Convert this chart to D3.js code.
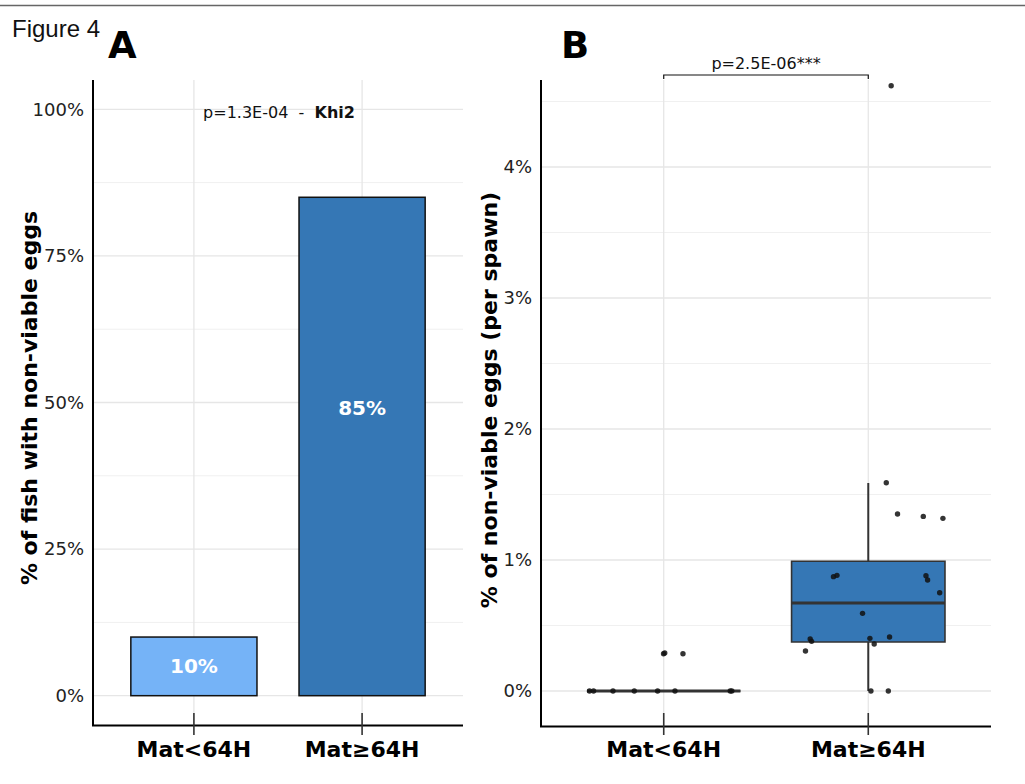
<!DOCTYPE html>
<html>
<head>
<meta charset="utf-8">
<script src="https://cdn.jsdelivr.net/npm/d3@7/dist/d3.min.js"></script>
<style>
html,body{margin:0;padding:0;background:#fff;}
svg{display:block;}
text{font-family:"DejaVu Sans",Verdana,sans-serif;}
</style>
</head>
<body>
<script>
// ---------- data ----------
const categories = ["Mat<64H", "Mat\u226564H"];
// Panel A: % of fish with non-viable eggs
const pctFish = [10, 85];
const pctLabelAt = [5, 49];
const barColors = ["#75b3f7", "#3577b5"];
const ticksA = [0, 25, 50, 75, 100];
const minorA = [12.5, 37.5, 62.5, 87.5];
// Panel B: box stats [lowerWhisker, q1, median, q3, upperWhisker] (%)
const boxStats = [
  [0, 0, 0, 0, 0],
  [0, 0.374, 0.672, 0.99, 1.588]
];
// jittered points: group index, jitter offset (category units), value (%)
const ptGroup = [0,0,0,0,0,0,0,0,0,0,0,
                 1,1,1,1,1,1,1,1,1,1,1,1,1,1,1,1,1,1,1];
const ptJitter = [-0.363,-0.343,-0.248,-0.144,-0.030,0.055,0.325,0.333,-0.001,0.005,0.094,
                  0.088,0.143,0.269,0.365,-0.170,-0.153,0.282,0.290,0.349,-0.028,-0.284,-0.277,0.008,0.104,0.029,-0.307,0.013,0.098,0.112];
const ptValue = [0,0,0,0,0,0,0,0,0.285,0.29,0.285,
                 1.59,1.351,1.333,1.318,0.873,0.883,0.880,0.847,0.750,0.593,0.397,0.379,0.402,0.412,0.359,0.305,0,0,4.62];
const ticksB = [0, 1, 2, 3, 4];
const minorB = [0.5, 1.5, 2.5, 3.5, 4.5];

const W = 1025, H = 784;
const svg = d3.select("body").append("svg").attr("width", W).attr("height", H);

// top border line
svg.append("line").attr("x1", 0).attr("x2", W).attr("y1", 5.5).attr("y2", 5.5)
  .attr("stroke", "#666").attr("stroke-width", 1.5);

svg.append("text").attr("x", 12).attr("y", 37).text("Figure 4")
  .style("font-family", "'Liberation Sans',Arial,sans-serif").style("font-size", "24px").attr("fill", "#111");
svg.append("text").attr("x", 108).attr("y", 58).text("A")
  .style("font-size", "37px").style("font-weight", "bold");
svg.append("text").attr("x", 561).attr("y", 58).text("B")
  .style("font-size", "37px").style("font-weight", "bold");

function panel(opts) {
  const g = svg.append("g");
  const x = d3.scaleLinear().domain([0.4, 2.6]).range([opts.left, opts.right]);
  const y = d3.scaleLinear().domain(opts.ydomain).range([opts.bottom, opts.top]);
  g.selectAll(".minor").data(opts.minor).join("line")
    .attr("x1", opts.left).attr("x2", opts.right)
    .attr("y1", d => y(d)).attr("y2", d => y(d))
    .attr("stroke", "#f0f0f0").attr("stroke-width", 1);
  g.selectAll(".major").data(opts.ticks).join("line")
    .attr("x1", opts.left).attr("x2", opts.right)
    .attr("y1", d => y(d)).attr("y2", d => y(d))
    .attr("stroke", "#e6e6e6").attr("stroke-width", 1.3);
  g.selectAll(".vgrid").data(categories).join("line")
    .attr("x1", (d, i) => x(i + 1)).attr("x2", (d, i) => x(i + 1))
    .attr("y1", opts.top).attr("y2", opts.bottom)
    .attr("stroke", "#e6e6e6").attr("stroke-width", 1.3);
  return {g, x, y};
}

// ---------- Panel A ----------
const A = panel({left: 93, right: 463, top: 80, bottom: 725, ydomain: [-5, 105], ticks: ticksA, minor: minorA});
const bw = 0.75;
A.g.selectAll(".bar").data(pctFish).join("rect")
  .attr("x", (d, i) => A.x(i + 1 - bw / 2))
  .attr("width", A.x(1 + bw / 2) - A.x(1 - bw / 2))
  .attr("y", d => A.y(d)).attr("height", d => A.y(0) - A.y(d))
  .attr("fill", (d, i) => barColors[i]).attr("stroke", "#111").attr("stroke-width", 1.5);
A.g.selectAll(".blab").data(pctFish).join("text")
  .attr("x", (d, i) => A.x(i + 1)).attr("y", (d, i) => A.y(pctLabelAt[i]) + 7)
  .attr("text-anchor", "middle").attr("fill", "#fff")
  .style("font-size", "20px").style("font-weight", "bold")
  .text(d => d + "%");
// axes
const axAy = d3.axisLeft(A.y).tickValues(ticksA).tickSize(0).tickPadding(9).tickFormat(d => d + "%");
const gAy = svg.append("g").attr("transform", "translate(93,0)").call(axAy);
gAy.select(".domain").remove();
gAy.selectAll("text").style("font-size", "18px").attr("fill", "#222");
svg.append("line").attr("x1", 93).attr("x2", 93).attr("y1", 80).attr("y2", 726).attr("stroke", "#000").attr("stroke-width", 2);
svg.append("line").attr("x1", 92).attr("x2", 463).attr("y1", 725.5).attr("y2", 725.5).attr("stroke", "#000").attr("stroke-width", 2.2);
svg.selectAll(".tickA").data(categories).join("line")
  .attr("x1", (d, i) => A.x(i + 1)).attr("x2", (d, i) => A.x(i + 1))
  .attr("y1", 713).attr("y2", 735).attr("stroke", "#333").attr("stroke-width", 1.6);
svg.selectAll(".xlabA").data(categories).join("text")
  .attr("x", (d, i) => A.x(i + 1)).attr("y", 757).attr("text-anchor", "middle")
  .style("font-size", "22px").style("font-weight", "bold").text(d => d);
svg.append("text").attr("transform", "translate(37,398) rotate(-90)").attr("text-anchor", "middle")
  .style("font-size", "22px").style("font-weight", "bold").text("% of fish with non-viable eggs");
const ptxt = svg.append("text").attr("x", 279).attr("y", 118).attr("text-anchor", "middle")
  .style("font-size", "16px").style("white-space", "pre").attr("xml:space", "preserve").attr("fill", "#111");
ptxt.append("tspan").text("p=1.3E-04  -  ");
ptxt.append("tspan").style("font-weight", "bold").text("Khi2");

// ---------- Panel B ----------
const B = panel({left: 541, right: 991, top: 80, bottom: 726, ydomain: [-0.267, 4.664], ticks: ticksB, minor: minorB});
const boxW = 0.75;
boxStats.forEach((s, i) => {
  const cx = B.x(i + 1), x0 = B.x(i + 1 - boxW / 2), x1 = B.x(i + 1 + boxW / 2);
  B.g.append("line").attr("x1", cx).attr("x2", cx).attr("y1", B.y(s[3])).attr("y2", B.y(s[4]))
    .attr("stroke", "#333").attr("stroke-width", 2);
  B.g.append("line").attr("x1", cx).attr("x2", cx).attr("y1", B.y(s[1])).attr("y2", B.y(s[0]))
    .attr("stroke", "#333").attr("stroke-width", 2);
  B.g.append("path").attr("d", `M${x0},${B.y(s[3])}H${x1}V${B.y(s[1])}H${x0}Z`)
    .attr("fill", barColors[1]).attr("stroke", "#333").attr("stroke-width", 1.6);
  B.g.append("line").attr("x1", x0).attr("x2", x1).attr("y1", B.y(s[2])).attr("y2", B.y(s[2]))
    .attr("stroke", "#333").attr("stroke-width", 3.2);
});
B.g.selectAll(".pt").data(ptValue).join("circle")
  .attr("cx", (d, i) => B.x(ptGroup[i] + 1 + ptJitter[i]))
  .attr("cy", d => B.y(d)).attr("r", 2.7)
  .attr("fill", "#111").attr("fill-opacity", 0.85);
const axBy = d3.axisLeft(B.y).tickValues(ticksB).tickSize(0).tickPadding(9).tickFormat(d => d + "%");
const gBy = svg.append("g").attr("transform", "translate(541,0)").call(axBy);
gBy.select(".domain").remove();
gBy.selectAll("text").style("font-size", "18px").attr("fill", "#222");
svg.append("line").attr("x1", 541).attr("x2", 541).attr("y1", 80).attr("y2", 727).attr("stroke", "#000").attr("stroke-width", 2);
svg.append("line").attr("x1", 540).attr("x2", 991).attr("y1", 726.5).attr("y2", 726.5).attr("stroke", "#000").attr("stroke-width", 2.2);
svg.selectAll(".tickB").data(categories).join("line")
  .attr("x1", (d, i) => B.x(i + 1)).attr("x2", (d, i) => B.x(i + 1))
  .attr("y1", 713).attr("y2", 735).attr("stroke", "#333").attr("stroke-width", 1.6);
svg.selectAll(".xlabB").data(categories).join("text")
  .attr("x", (d, i) => B.x(i + 1)).attr("y", 757).attr("text-anchor", "middle")
  .style("font-size", "22px").style("font-weight", "bold").text(d => d);
svg.append("text").attr("transform", "translate(497,400) rotate(-90)").attr("text-anchor", "middle")
  .style("font-size", "22px").style("font-weight", "bold").text("% of non-viable eggs (per spawn)");
// significance bracket
const bx0 = B.x(1), bx1 = B.x(2);
svg.append("path").attr("d", `M${bx0},79V75H${bx1}V79`).attr("fill", "none").attr("stroke", "#111").attr("stroke-width", 1.2);
svg.append("text").attr("x", (bx0 + bx1) / 2).attr("y", 69).attr("text-anchor", "middle")
  .style("font-size", "16px").attr("fill", "#111").text("p=2.5E-06***");
</script>
</body>
</html>
